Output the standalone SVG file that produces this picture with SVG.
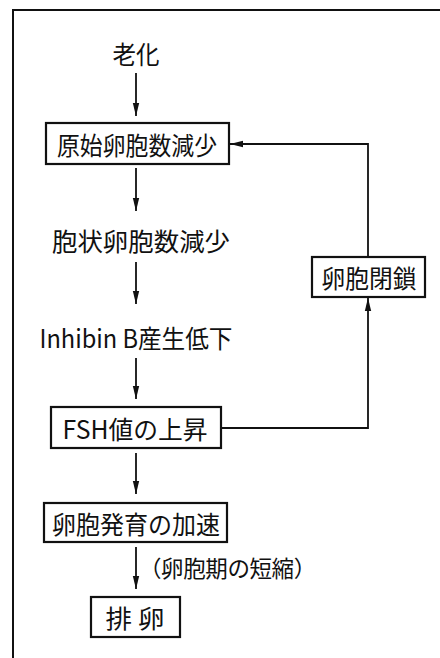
<svg xmlns="http://www.w3.org/2000/svg" width="440" height="658" viewBox="0 0 440 658">
<defs>
<marker id="ah" viewBox="0 0 13 8" refX="13" refY="4" markerWidth="13" markerHeight="8" markerUnits="userSpaceOnUse" orient="auto">
<path d="M0,0.8 L13,4 L0,7.2 Z" fill="#111"/>
</marker>
<style>
.t{font-family:"Noto Sans CJK JP","Noto Sans",sans-serif;font-size:25px;fill:#111;text-anchor:middle;dominant-baseline:central}
.s{font-size:22.5px;text-anchor:start;letter-spacing:-0.4px}
.b{fill:#fff;stroke:#111;stroke-width:2.2}
.c{fill:none;stroke:#111;stroke-width:1.8}
</style>
</defs>
<rect width="440" height="658" fill="#fff"/>
<path d="M13,658 L13,10 L440,10" fill="none" stroke="#111" stroke-width="2"/>
<g id="connectors">
<line class="c" x1="136" y1="73" x2="136" y2="116" marker-end="url(#ah)"/>
<line class="c" x1="136" y1="168" x2="136" y2="211" marker-end="url(#ah)"/>
<line class="c" x1="136" y1="262" x2="136" y2="304" marker-end="url(#ah)"/>
<line class="c" x1="136" y1="358" x2="136" y2="399" marker-end="url(#ah)"/>
<line class="c" x1="136" y1="453" x2="136" y2="494" marker-end="url(#ah)"/>
<line class="c" x1="136" y1="547" x2="136" y2="589" marker-end="url(#ah)"/>
<polyline class="c" points="368,257 368,144 230,144" marker-end="url(#ah)"/>
<polyline class="c" points="221,428 368,428 368,298" marker-end="url(#ah)"/>
</g>
<g id="n-aging"><text class="t" x="136" y="53" textLength="47" lengthAdjust="spacingAndGlyphs">老化</text></g>
<g id="n-primordial"><rect class="b" x="46" y="123" width="183" height="41"/><text class="t" x="137" y="144" textLength="160" lengthAdjust="spacingAndGlyphs">原始卵胞数減少</text></g>
<g id="n-antral"><text class="t" x="141" y="240" textLength="178" lengthAdjust="spacingAndGlyphs">胞状卵胞数減少</text></g>
<g id="n-inhibin"><text class="t" x="136" y="337" textLength="193" lengthAdjust="spacingAndGlyphs">Inhibin B産生低下</text></g>
<g id="n-fsh"><rect class="b" x="51" y="407" width="170" height="41"/><text class="t" x="135" y="428" textLength="145" lengthAdjust="spacingAndGlyphs">FSH値の上昇</text></g>
<g id="n-atresia"><rect class="b" x="312" y="257" width="113" height="40"/><text class="t" x="369" y="277" textLength="95" lengthAdjust="spacingAndGlyphs">卵胞閉鎖</text></g>
<g id="n-accel"><rect class="b" x="44" y="503" width="183" height="39"/><text class="t" x="136" y="523" textLength="168" lengthAdjust="spacingAndGlyphs">卵胞発育の加速</text></g>
<g id="n-label"><text class="t s" x="139" y="567">（卵胞期の短縮）</text></g>
<g id="n-ovulation"><rect class="b" x="91" y="597" width="89" height="40"/><text class="t" x="135" y="617" textLength="59" lengthAdjust="spacingAndGlyphs">排 卵</text></g>
</svg>
